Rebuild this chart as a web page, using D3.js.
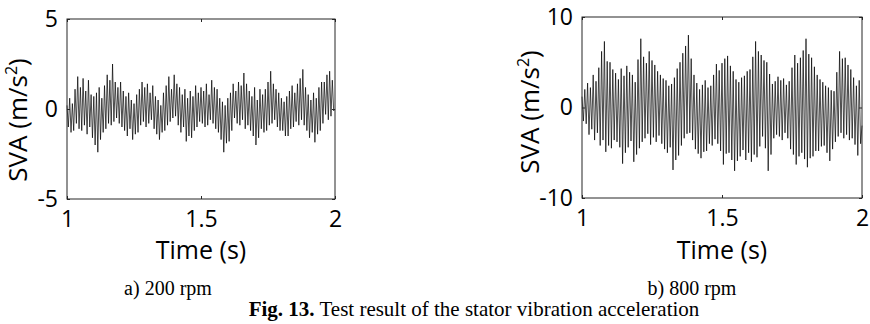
<!DOCTYPE html>
<html>
<head>
<meta charset="utf-8">
<script src="https://cdn.jsdelivr.net/npm/d3@7"></script>
<style>
  body { margin: 0; background: #fff; }
  svg { display: block; }
</style>
</head>
<body>
<div id="chart"></div>
<script>
// time window on both panels (s)
var timeRange = [1, 2];
var xTicks = [1, 1.5, 2];
var yTicks200 = [-5, 0, 5];
var yTicks800 = [-10, 0, 10];

// stator vibration acceleration (m/s^2)
var sva200 = [
  0.2, -1.0, 0.6, -1.3, 0.3, -1.2, 1.1, -0.8, 1.8, -1.1, 1.2, -1.2, 1.7, -0.9, 1.0, -1.4, 1.6, -1.0, 0.8, -1.6,
  0.7, -2.0, 0.9, -2.4, 1.2, -1.7, 0.6, -1.3, 1.3, -1.1, 1.9, -0.8, 1.6, -0.9, 2.5, -0.7, 1.5, -0.5, 1.2, -0.8,
  1.5, -1.0, 1.0, -1.2, 0.7, -1.5, 0.9, -1.1, 0.5, -1.7, 0.3, -1.4, 0.8, -1.3, 1.1, -0.9, 1.5, -0.7, 1.2, -1.0,
  1.4, -0.8, 0.9, -0.6, 1.3, -1.1, 0.7, -1.4, 0.5, -1.7, 0.2, -1.3, 0.9, -1.2, 1.3, -0.9, 1.8, -0.7, 1.1, -0.5,
  1.9, -0.4, 1.4, -0.9, 1.2, -1.3, 0.8, -1.0, 1.1, -1.8, 0.6, -1.5, 1.0, -1.6, 0.7, -1.2, 1.3, -1.0, 0.9, -0.7,
  1.2, -0.8, 1.0, -1.0, 1.4, -0.9, 0.8, -0.6, 1.6, -0.8, 1.2, -1.1, 1.1, -1.3, 0.6, -1.7, 0.4, -2.4, 0.2, -1.9,
  0.6, -1.8, 0.9, -1.2, 1.4, -0.5, 1.0, -0.8, 1.5, -0.9, 1.3, -0.6, 2.0, -1.1, 1.4, -0.9, 1.0, -1.2, 0.7, -1.5,
  1.2, -2.0, 0.5, -1.6, 1.1, -1.1, 0.8, -1.3, 1.1, -1.2, 1.5, -0.9, 2.1, -0.8, 1.4, -0.6, 1.1, -1.0, 0.9, -1.2,
  0.6, -1.2, 0.4, -1.5, 0.7, -1.5, 1.0, -1.1, 1.3, -1.0, 0.9, -0.7, 1.4, -0.9, 1.7, -0.6, 2.2, -0.9, 1.2, -1.2,
  0.8, -1.6, 0.5, -1.3, 0.9, -1.85, 0.6, -1.4, 1.2, -1.2, 1.5, -0.8, 1.5, -0.3, 1.9, -0.6, 2.1, -0.4, 1.6, -0.1,
  0.0
];
var sva800 = [
  1.2, -1.5, 2.0, -1.8, 2.7, -3.0, 2.2, -2.4, 3.6, -3.6, 2.9, -2.8, 4.4, -4.2, 6.2, -3.6, 7.3, -4.9, 5.1, -4.2,
  5.0, -4.5, 4.2, -3.6, 3.8, -3.8, 3.1, -4.4, 4.3, -6.2, 3.5, -5.0, 4.6, -4.4, 3.9, -3.7, 3.6, -6.0, 2.8, -5.2,
  5.3, -4.5, 7.6, -3.8, 5.6, -3.4, 4.9, -2.9, 6.2, -4.1, 5.2, -3.3, 4.7, -3.8, 4.0, -3.1, 3.6, -4.0, 3.2, -4.6,
  3.0, -5.0, 2.4, -4.4, 2.6, -6.9, 3.3, -5.8, 4.3, -5.3, 5.0, -4.2, 6.0, -3.4, 6.8, -2.9, 8.0, -2.8, 5.4, -3.6,
  3.6, -4.6, 2.7, -5.1, 2.0, -5.6, 2.5, -4.9, 3.0, -4.8, 2.2, -4.0, 2.4, -4.2, 3.6, -3.5, 4.8, -4.0, 4.1, -4.8,
  4.9, -6.3, 5.4, -5.1, 5.7, -5.0, 4.6, -5.8, 4.0, -7.0, 3.1, -5.9, 2.8, -5.4, 3.3, -4.7, 3.5, -5.8, 4.0, -5.0,
  4.2, -6.0, 5.6, -5.2, 7.3, -5.5, 6.2, -4.3, 5.8, -3.2, 5.2, -4.5, 5.0, -7.0, 3.7, -5.2, 2.6, -3.4, 2.9, -3.0,
  3.4, -3.2, 3.0, -3.6, 3.2, -2.8, 2.5, -3.4, 2.9, -4.6, 4.4, -5.2, 5.8, -6.3, 4.9, -5.4, 5.5, -5.0, 6.3, -5.7,
  7.6, -6.6, 5.9, -5.6, 5.5, -5.4, 4.5, -4.8, 3.6, -4.8, 3.1, -4.3, 2.8, -4.2, 2.4, -5.0, 2.2, -5.9, 1.9, -4.6,
  1.8, -3.8, 3.9, -3.2, 6.2, -2.8, 5.4, -3.4, 5.5, -3.0, 4.7, -3.6, 4.2, -3.4, 3.3, -4.1, 2.4, -5.3, 3.0, -4.0,
  -2.0
];

var captions = ["a) 200 rpm", "b) 800 rpm"];
var figLabel = "Fig. 13.";
var figTitle = " Test result of the stator vibration acceleration";

var W = 870, H = 324;
var tickFont = "'Open Sans', 'DejaVu Sans', sans-serif";
var capFont = "'Liberation Serif', 'Times New Roman', serif";

var svg = d3.select("#chart").append("svg")
    .attr("width", W)
    .attr("height", H);

svg.append("rect").attr("width", W).attr("height", H).attr("fill", "#fff");

var panels = [
  {x0: 67, x1: 335, y0: 19, y1: 199, yDomain: [-5, 5], yTicks: yTicks200, data: sva200,
   caption: captions[0], capX: 168, ylabX: 27, ylabY: 120, xPad: 12},
  {x0: 582, x1: 862, y0: 17, y1: 198, yDomain: [-10, 10], yTicks: yTicks800, data: sva800,
   caption: captions[1], capX: 692, ylabX: 539, ylabY: 112, xPad: 12}
];

panels.forEach(function(p) {
    var x = d3.scaleLinear().domain(timeRange).range([p.x0, p.x1]);
    var y = d3.scaleLinear().domain(p.yDomain).range([p.y1, p.y0]);
    var n = p.data.length;
    var dt = (timeRange[1] - timeRange[0]) / (n - 1);

    var line = d3.line()
        .x(function(d, i) { return x(timeRange[0] + i * dt); })
        .y(function(d) { return y(d); });

    svg.append("path")
        .datum(p.data)
        .attr("d", line)
        .attr("fill", "none")
        .attr("stroke", "#000")
        .attr("stroke-width", 0.7);

    var fmt = function(d) { return String(d); };

    // bottom + left with labels, top + right ticks only
    var gb = svg.append("g")
        .attr("transform", "translate(0," + p.y1 + ")")
        .call(d3.axisBottom(x).tickValues(xTicks).tickSizeInner(-3).tickSizeOuter(0).tickPadding(p.xPad).tickFormat(fmt));
    var gl = svg.append("g")
        .attr("transform", "translate(" + p.x0 + ",0)")
        .call(d3.axisLeft(y).tickValues(p.yTicks).tickSizeInner(-3).tickSizeOuter(0).tickPadding(9).tickFormat(fmt));
    var gt = svg.append("g")
        .attr("transform", "translate(0," + p.y0 + ")")
        .call(d3.axisTop(x).tickValues(xTicks).tickSizeInner(-3).tickSizeOuter(0).tickFormat(""));
    var gr = svg.append("g")
        .attr("transform", "translate(" + p.x1 + ",0)")
        .call(d3.axisRight(y).tickValues(p.yTicks).tickSizeInner(-3).tickSizeOuter(0).tickFormat(""));

    [gb, gl, gt, gr].forEach(function(g) {
        g.select(".domain").remove();
        g.selectAll("line").attr("stroke", "#262626");
        g.selectAll("text")
            .attr("fill", "#000")
            .style("font-family", tickFont)
            .style("font-size", "23px");
    });

    svg.append("rect")
        .attr("x", p.x0)
        .attr("y", p.y0)
        .attr("width", p.x1 - p.x0)
        .attr("height", p.y1 - p.y0)
        .attr("fill", "none")
        .attr("stroke", "#262626")
        .attr("stroke-width", 1);

    // axis titles
    svg.append("text")
        .attr("x", (p.x0 + p.x1) / 2)
        .attr("y", 259)
        .attr("text-anchor", "middle")
        .style("font-family", tickFont)
        .style("font-size", "25px")
        .text("Time (s)");

    var yl = svg.append("text")
        .attr("transform", "translate(" + p.ylabX + "," + p.ylabY + ") rotate(-90)")
        .attr("text-anchor", "middle")
        .style("font-family", tickFont)
        .style("font-size", "26px");
    yl.append("tspan").text("SVA (m/s");
    yl.append("tspan").attr("dy", -10).style("font-size", "16px").text("2");
    yl.append("tspan").attr("dy", 10).text(")");

    svg.append("text")
        .attr("x", p.capX)
        .attr("y", 295)
        .attr("text-anchor", "middle")
        .style("font-family", capFont)
        .style("font-size", "20px")
        .text(p.caption);
});

var fig = svg.append("text")
    .attr("x", 474)
    .attr("y", 316)
    .attr("text-anchor", "middle")
    .style("font-family", capFont)
    .style("font-size", "21px");
fig.append("tspan").style("font-weight", "bold").text(figLabel);
fig.append("tspan").text(figTitle);
</script>
</body>
</html>
